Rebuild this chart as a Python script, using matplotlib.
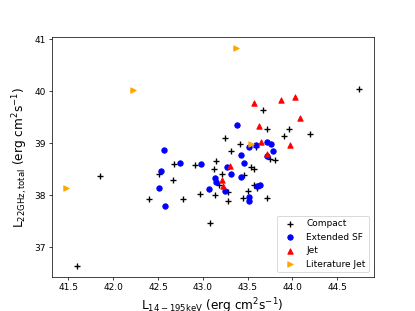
import matplotlib
matplotlib.use('Agg')
import matplotlib.pyplot as plt

# Compact sources
compact_x = [41.848, 41.600, 42.397, 42.681, 42.514, 42.672, 42.778, 42.914, 42.967, 43.074,
             43.152, 43.126, 43.219, 43.130, 43.283, 43.280, 43.448, 43.503, 43.311, 43.247,
             43.181, 43.672, 43.713, 43.964, 43.906, 44.191, 43.419, 43.594, 43.744, 43.808,
             43.539, 43.567, 43.459, 43.572, 43.600, 43.711, 44.741]
compact_y = [38.360, 36.635, 37.923, 38.590, 38.398, 38.296, 37.931, 38.571, 38.027, 37.462,
             38.662, 38.504, 38.394, 38.004, 38.062, 37.892, 37.933, 38.071, 38.840, 39.094,
             38.187, 39.625, 39.260, 39.271, 39.129, 39.171, 38.973, 38.923, 38.692, 38.677,
             38.546, 38.504, 38.379, 38.200, 38.142, 37.946, 40.033]

# Extended star formation
ext_x = [43.378, 42.563, 42.748, 42.974, 42.533, 42.514, 42.581, 43.067, 43.137, 43.152,
         43.244, 43.267, 43.319, 43.589, 43.514, 43.714, 43.756, 43.781, 43.717, 43.428,
         43.463, 43.428, 43.606, 43.639, 43.514, 43.514]
ext_y = [39.346, 38.869, 38.623, 38.604, 38.462, 38.125, 37.783, 38.123, 38.331, 38.254,
         38.075, 38.542, 38.412, 38.956, 38.921, 39.013, 38.985, 38.840, 38.754, 38.771,
         38.619, 38.346, 38.177, 38.196, 37.969, 37.883]

# Jets
jet_x = [43.574, 43.867, 44.026, 44.081, 43.624, 43.967, 43.652, 43.711, 43.306, 43.217, 43.228]
jet_y = [39.769, 39.835, 39.875, 39.488, 39.327, 38.969, 39.013, 38.792, 38.556, 38.283, 38.167]

# Literature jets
lit_x = [41.478, 42.222, 43.374, 43.541]
lit_y = [38.135, 40.019, 40.827, 38.979]

fig, ax = plt.subplots(figsize=(6.4, 4.8), dpi=415 / 6.4)

ax.scatter(compact_x, compact_y, marker='+', color='black', label='Compact')
ax.scatter(ext_x, ext_y, marker='o', color='blue', label='Extended SF')
ax.scatter(jet_x, jet_y, marker='^', color='red', label='Jet')
ax.scatter(lit_x, lit_y, marker='>', color='orange', label='Literature Jet')

ax.set_xlabel(r'$\mathrm{L_{14-195keV}}$ (erg cm$^2$s$^{-1}$)', fontsize=13.5)
ax.set_ylabel(r'$\mathrm{L_{22GHz,total}}$ (erg cm$^2$s$^{-1}$)', fontsize=13.5)
ax.legend(loc='lower right')

fig.savefig('out.png')
